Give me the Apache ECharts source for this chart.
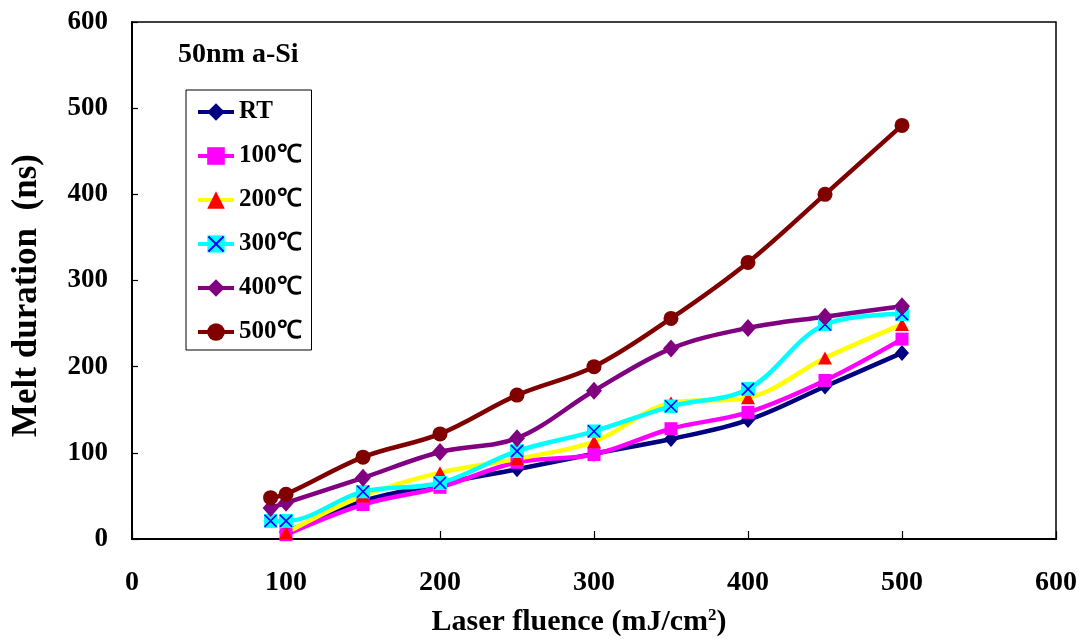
<!DOCTYPE html>
<html><head><meta charset="utf-8">
<script src="https://cdn.jsdelivr.net/npm/echarts@6/dist/echarts.min.js"></script>
<style>html,body{margin:0;padding:0;background:#fff}#c{width:1080px;height:639px}</style>
</head><body><div id="c"></div>
<script>
var seriesNames = ['RT', '100℃', '200℃', '300℃', '400℃', '500℃'];
var xRT   = [100,150,200,250,300,350,400,450,500];
var yRT   = [8,44,64,81,99,116,138,177,216];
var x100  = [100,150,200,250,300,350,400,450,500];
var y100  = [5,40,60,89,98,128,147,184,232];
var x200  = [100,150,200,250,300,350,400,450,500];
var y200  = [7,50,77,93,113,158,164,210,249];
var x300  = [90,100,150,200,250,300,350,400,450,500];
var y300  = [21,21,55,65,102,125,154,174,249,261];
var x400  = [90,100,150,200,250,300,350,400,450,500];
var y400  = [36,42,71,101,117,172,221,245,258,270];
var x500  = [90,100,150,200,250,300,350,400,450,500];
var y500  = [48,52,95,122,167,200,256,321,400,480];
var xTicks = [0,100,200,300,400,500,600];
var yTicks = [0,100,200,300,400,500,600];

function pairs(xs, ys){ return xs.map(function(x,i){ return [x, ys[i]]; }); }

var xSym = 'image://data:image/svg+xml;utf8,' + encodeURIComponent(
  '<svg xmlns="http://www.w3.org/2000/svg" width="14" height="14" viewBox="0 0 14 14">' +
  '<rect x="0" y="0" width="14" height="14" fill="#00FFFF"/>' +
  '<path d="M1 1 L13 13 M13 1 L1 13" stroke="#0000FF" stroke-width="1.6"/></svg>');

var font = '"Liberation Serif", "Times New Roman", serif';
var colors = ['#000080', '#FF00FF', '#FFFF00', '#00FFFF', '#800080', '#800000'];
var symbols = ['diamond', 'rect', 'triangle', xSym, 'diamond', 'circle'];
var symSizes = [[14,16], 13, [14,13], 14, [16,18], 15];
var symColors = ['#000080', '#FF00FF', '#FF0000', '#00FFFF', '#800080', '#800000'];
var datas = [pairs(xRT,yRT), pairs(x100,y100), pairs(x200,y200), pairs(x300,y300), pairs(x400,y400), pairs(x500,y500)];

var series = seriesNames.map(function(n, i){
  return {
    name: n, type: 'line', data: datas[i], smooth: 0.35,
    symbol: symbols[i], symbolSize: symSizes[i], showAllSymbol: true,
    lineStyle: { color: colors[i], width: 4.5 },
    itemStyle: { color: symColors[i], borderWidth: 0 },
    emphasis: { disabled: true }, animation: false
  };
});

var chart = echarts.init(document.getElementById('c'));
chart.setOption({
  animation: false,
  grid: { left: 132, right: 24, top: 22, bottom: 100, outerBoundsMode: 'none', containLabel: false,
    show: true, borderColor: '#000', borderWidth: 1.5, backgroundColor: 'transparent' },
  legend: {
    orient: 'vertical', left: 186, top: 90,
    padding: [9, 10, 5, 10], itemGap: 18, itemWidth: 36, itemHeight: 22,
    borderColor: '#000', borderWidth: 1, backgroundColor: '#fff',
    lineStyle: { width: 4 },
    textStyle: { fontFamily: font, fontWeight: 'bold', fontSize: 25, color: '#000', lineHeight: 26 },
    data: seriesNames.map(function(n, i){ return { name: n, itemStyle: { color: symColors[i] } }; })
  },
  xAxis: {
    type: 'value', min: 0, max: 600, interval: 100,
    name: 'Laser fluence (mJ/cm{sup|2})', nameLocation: 'middle', nameGap: 68,
    nameTextStyle: { fontFamily: font, fontWeight: 'bold', fontSize: 30, color: '#000', padding: [0, 30, 0, 0],
      rich: { sup: { fontFamily: font, fontWeight: 'bold', fontSize: 17, color: '#000', verticalAlign: 'top', padding: [0, 0, 12, 0] } } },
    axisLine: { show: true, lineStyle: { color: '#000', width: 2 } },
    axisTick: { show: true, inside: true, length: 8, lineStyle: { color: '#000', width: 1.2 } },
    axisLabel: { fontFamily: font, fontWeight: 'bold', fontSize: 28, color: '#000', margin: 30,
      formatter: function(v){ return xTicks.indexOf(v) >= 0 ? String(v) : ''; } },
    splitLine: { show: false }
  },
  yAxis: {
    type: 'value', min: 0, max: 600, interval: 100,
    name: 'Melt duration  (ns)', nameLocation: 'middle', nameGap: 88,
    nameTextStyle: { fontFamily: font, fontWeight: 'bold', fontSize: 35, color: '#000', padding: [0, 30, 0, 0] },
    axisLine: { show: true, lineStyle: { color: '#000', width: 2 } },
    axisTick: { show: true, inside: true, length: 6, lineStyle: { color: '#000', width: 1.2 } },
    axisLabel: { fontFamily: font, fontWeight: 'bold', fontSize: 27, color: '#000', margin: 24,
      formatter: function(v){ return yTicks.indexOf(v) >= 0 ? String(v) : ''; } },
    splitLine: { show: false }
  },
  graphic: [{
    type: 'text', left: 178, top: 41,
    style: { text: '50nm a-Si', fontFamily: font, fontWeight: 'bold', fontSize: 28, fill: '#000' }
  }],
  series: series
});
</script>
</body></html>
